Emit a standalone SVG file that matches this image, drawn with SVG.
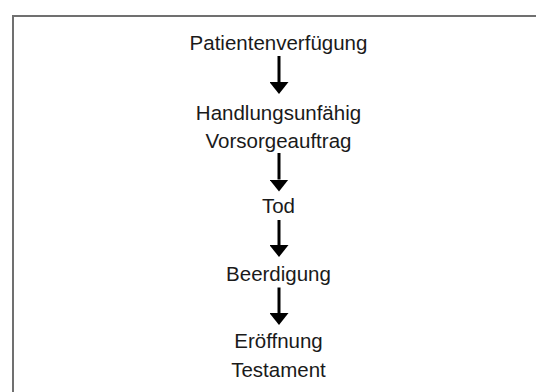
<svg xmlns="http://www.w3.org/2000/svg" width="536" height="392" viewBox="0 0 536 392">
  <style>
    .t { font-family: "Liberation Sans", Arial, sans-serif; font-size: 20.5px; fill: #1a1a1a; text-anchor: middle; }
    .c { stroke: #000; stroke-width: 3; fill: none; }
    .frame { stroke: #707070; stroke-width: 2; fill: none; }
  </style>
  <defs>
    <marker id="ah" markerUnits="userSpaceOnUse" markerWidth="12" markerHeight="19" viewBox="0 0 12 19" refX="0" refY="9.5" orient="auto">
      <path d="M0,0 L12,9.5 L0,19 z" fill="#000"/>
    </marker>
  </defs>
  <rect x="0" y="0" width="536" height="392" fill="#fff"/>
  <path class="frame" d="M13,393 V16 H537"/>

  <g id="n1"><text class="t" x="278.5" y="50">Patientenverfügung</text></g>
  <g id="n2">
    <text class="t" x="278.5" y="120">Handlungsunfähig</text>
    <text class="t" x="278.5" y="148">Vorsorgeauftrag</text>
  </g>
  <g id="n3"><text class="t" x="278.5" y="212.5">Tod</text></g>
  <g id="n4"><text class="t" x="278.5" y="280.5">Beerdigung</text></g>
  <g id="n5">
    <text class="t" x="278.5" y="347.5">Eröffnung</text>
    <text class="t" x="278.5" y="376.5">Testament</text>
  </g>

  <g id="connectors">
    <line class="c" x1="279" y1="56" x2="279" y2="82" marker-end="url(#ah)"/>
    <line class="c" x1="279" y1="153" x2="279" y2="179.5" marker-end="url(#ah)"/>
    <line class="c" x1="279" y1="220" x2="279" y2="245" marker-end="url(#ah)"/>
    <line class="c" x1="279" y1="287.5" x2="279" y2="313" marker-end="url(#ah)"/>
  </g>
</svg>
